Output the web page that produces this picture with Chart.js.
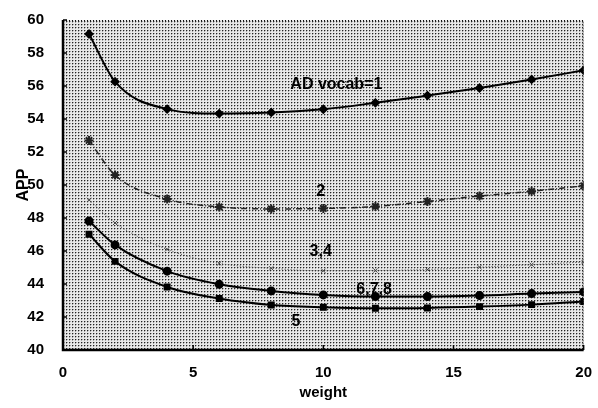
<!DOCTYPE html>
<html>
<head>
<meta charset="utf-8">
<script src="https://cdn.jsdelivr.net/npm/chart.js@4/dist/chart.umd.min.js"></script>
<style>
  body { margin: 0; background: #fff; }
  #wrap { width: 598px; height: 408px; position: relative; }
</style>
</head>
<body>
<div id="wrap"><canvas id="chart"></canvas></div>
<script>
// weights on the x axis
const weights = [1, 2, 4, 6, 8, 10, 12, 14, 16, 18, 20];

// APP per vocab setting
const vocab1 = [59.15, 56.26, 54.6, 54.33, 54.4, 54.59, 54.98, 55.42, 55.88, 56.4, 56.95];
const vocab2 = [52.7, 50.6, 49.15, 48.67, 48.55, 48.58, 48.7, 49.0, 49.33, 49.62, 49.95];
const vocab34 = [49.1, 47.7, 46.1, 45.25, 44.95, 44.8, 44.82, 44.88, 45.02, 45.17, 45.33];
const vocab678 = [47.82, 46.37, 44.78, 43.98, 43.58, 43.34, 43.24, 43.24, 43.3, 43.42, 43.52];
const vocab5 = [47.02, 45.37, 43.82, 43.12, 42.73, 42.59, 42.53, 42.55, 42.63, 42.75, 42.94];

const xTicks = [0, 5, 10, 15, 20];
const yTicks = [40, 42, 44, 46, 48, 50, 52, 54, 56, 58, 60];

// curve labels: text, weight, APP
const curveLabels = [
    ['AD vocab=1', 10.5, 56.1],
    ['2', 9.9, 49.6],
    ['3,4', 9.9, 45.95],
    ['6,7,8', 11.95, 43.68],
    ['5', 8.95, 41.75]
];

const FONT = '"Liberation Sans", Arial, Helvetica, sans-serif';

function toPoints(ys) {
    return weights.map((w, i) => ({ x: w, y: ys[i] }));
}

// stipple background
function makePattern(ctx) {
    const c = document.createElement('canvas');
    c.width = 3; c.height = 3;
    const g = c.getContext('2d');
    g.fillStyle = '#e8e8e8';
    g.fillRect(0, 0, 3, 3);
    g.fillStyle = '#222';
    g.fillRect(0, 0, 1, 1);
    g.fillStyle = '#a8a8a8';
    g.fillRect(1, 0, 1, 1);
    g.fillRect(0, 1, 1, 1);
    return ctx.createPattern(c, 'repeat');
}

const framePlugin = {
    id: 'frame',
    beforeDatasetsDraw(chart) {
        const { ctx, chartArea: a } = chart;
        ctx.save();
        ctx.fillStyle = makePattern(ctx);
        ctx.fillRect(a.left, a.top, a.right - a.left, a.bottom - a.top);
        ctx.restore();
    },
    afterDatasetsDraw(chart) {
        const { ctx, chartArea: a, scales } = chart;
        ctx.save();
        // dotted top and right edges
        ctx.strokeStyle = '#111';
        ctx.lineWidth = 1;
        ctx.setLineDash([1, 2]);
        ctx.beginPath();
        ctx.moveTo(a.left, a.top + 0.5);
        ctx.lineTo(a.right - 0.5, a.top + 0.5);
        ctx.lineTo(a.right - 0.5, a.bottom);
        ctx.stroke();
        ctx.setLineDash([]);
        // solid left and bottom axes
        ctx.lineWidth = 2.5;
        ctx.strokeStyle = '#000';
        ctx.beginPath();
        ctx.moveTo(a.left, a.top);
        ctx.lineTo(a.left, a.bottom);
        ctx.lineTo(a.right, a.bottom);
        ctx.stroke();
        // inward ticks
        ctx.lineWidth = 1.5;
        ctx.beginPath();
        yTicks.forEach(v => {
            const y = scales.y.getPixelForValue(v);
            ctx.moveTo(a.left, y);
            ctx.lineTo(a.left + 4, y);
        });
        xTicks.forEach(v => {
            const x = scales.x.getPixelForValue(v);
            ctx.moveTo(x, a.bottom);
            ctx.lineTo(x, a.bottom - 5);
        });
        ctx.stroke();
        // curve labels
        ctx.fillStyle = '#000';
        ctx.font = 'bold 16px ' + FONT;
        ctx.textAlign = 'center';
        ctx.textBaseline = 'middle';
        curveLabels.forEach(([t, w, v]) => {
            ctx.fillText(t, scales.x.getPixelForValue(w), scales.y.getPixelForValue(v));
        });
        ctx.restore();
    }
};

new Chart(document.getElementById('chart'), {
    type: 'line',
    data: {
        datasets: [
            {
                label: 'vocab 1', data: toPoints(vocab1),
                borderColor: '#000', backgroundColor: '#000', borderWidth: 2,
                pointStyle: 'rectRot', pointRadius: 3.5
            },
            {
                label: 'vocab 2', data: toPoints(vocab2),
                borderColor: '#222', backgroundColor: '#444', borderWidth: 1.5,
                borderDash: [6, 2, 1, 2],
                pointStyle: 'star', pointRadius: 4.5, pointBorderWidth: 2
            },
            {
                label: 'vocab 3,4', data: toPoints(vocab34),
                borderColor: '#444', backgroundColor: '#444', borderWidth: 1,
                borderDash: [1, 2],
                pointStyle: 'crossRot', pointRadius: 3, pointBorderWidth: 1
            },
            {
                label: 'vocab 6,7,8', data: toPoints(vocab678),
                borderColor: '#000', backgroundColor: '#000', borderWidth: 2,
                pointStyle: 'circle', pointRadius: 3.5
            },
            {
                label: 'vocab 5', data: toPoints(vocab5),
                borderColor: '#000', backgroundColor: '#000', borderWidth: 2,
                pointStyle: 'rect', pointRadius: 3.5
            }
        ]
    },
    options: {
        responsive: true,
        maintainAspectRatio: false,
        animation: false,
        cubicInterpolationMode: 'monotone',
        layout: { padding: { top: 6, right: 7, left: 10, bottom: 2 } },
        plugins: {
            legend: { display: false },
            tooltip: { enabled: false }
        },
        scales: {
            x: {
                type: 'linear', min: 0, max: 20,
                afterBuildTicks: s => { s.ticks = xTicks.map(v => ({ value: v })); },
                afterFit: s => { s.height = 56; },
                grid: { display: false },
                border: { display: false },
                ticks: { color: '#000', padding: 6, font: { family: FONT, size: 15, weight: 'bold' } },
                title: {
                    display: true, text: 'weight', color: '#000', padding: { top: 6 },
                    font: { family: FONT, size: 15, weight: 'bold' }
                }
            },
            y: {
                min: 40, max: 60,
                afterBuildTicks: s => { s.ticks = yTicks.map(v => ({ value: v })); },
                afterFit: s => { s.width = 53; },
                grid: { display: false },
                border: { display: false },
                ticks: { color: '#000', padding: 11, font: { family: FONT, size: 15, weight: 'bold' } },
                title: {
                    display: true, text: 'APP', color: '#000', padding: { bottom: 0 },
                    font: { family: FONT, size: 16, weight: 'bold' }
                }
            }
        }
    },
    plugins: [framePlugin]
});
</script>
</body>
</html>
